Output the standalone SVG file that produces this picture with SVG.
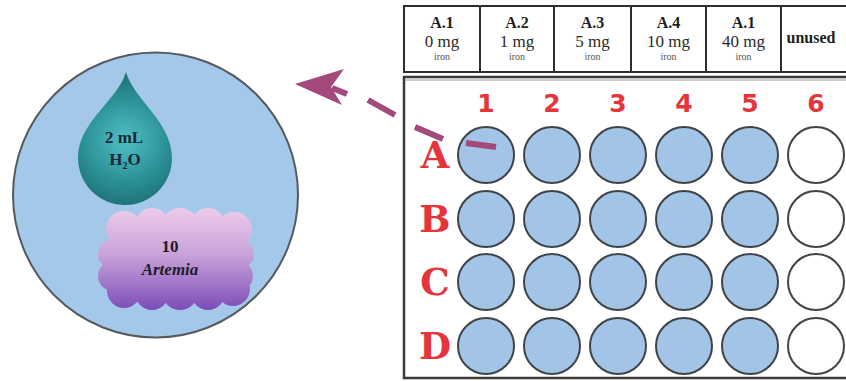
<svg xmlns="http://www.w3.org/2000/svg" width="846" height="381" viewBox="0 0 846 381">
  <style>
    .well { fill: #a2c5e7; stroke: #404448; stroke-width: 2; }
    .empty { fill: #ffffff; stroke: #404448; stroke-width: 2; }
    .cell { fill: #ffffff; stroke: #2e2e2e; stroke-width: 2; }
    .hd { font-family: "Liberation Serif", serif; font-weight: bold; font-size: 16px; fill: #1e1e1e; text-anchor: middle; }
    .dose { font-family: "Liberation Serif", serif; font-size: 17px; fill: #2a2a2a; text-anchor: middle; }
    .iron { font-family: "Liberation Serif", serif; font-size: 10px; fill: #555555; text-anchor: middle; }
    .col { font-family: "DejaVu Sans", sans-serif; font-weight: bold; font-size: 25px; fill: #e5343b; text-anchor: middle; }
    .row { font-family: "DejaVu Serif", serif; font-weight: bold; font-size: 37px; fill: #e5343b; text-anchor: middle; }
    .lbl { font-family: "Liberation Serif", serif; font-weight: bold; font-size: 17px; fill: #1c2a33; text-anchor: middle; }
    .dash { stroke: #a4497c; stroke-width: 6; fill: none; }
  </style>
  <defs>
    <radialGradient id="dropFill" cx="125" cy="140" r="70" gradientUnits="userSpaceOnUse">
      <stop offset="0" stop-color="#4fc0c6"/>
      <stop offset="0.6" stop-color="#2b9096"/>
      <stop offset="1" stop-color="#1c6d72"/>
    </radialGradient>
    <linearGradient id="cloudFill" x1="0" y1="208" x2="0" y2="310" gradientUnits="userSpaceOnUse">
      <stop offset="0" stop-color="#ecccea"/>
      <stop offset="0.45" stop-color="#c9a3da"/>
      <stop offset="1" stop-color="#7c4db8"/>
    </linearGradient>
  </defs>

  <!-- single well, enlarged -->
  <g id="well-detail">
    <circle cx="155.5" cy="195" r="142.5" fill="#a4c8e9" stroke="#555a5e" stroke-width="2"/>
  </g>

  <g id="water-drop">
    <path d="M126,72 C134,100 172,122 172,158 A47,47 0 0 1 78,158 C78,122 118,100 126,72 Z" fill="url(#dropFill)"/>
    <text class="lbl" x="124" y="143">2 mL</text>
    <text class="lbl" x="125" y="165">H<tspan font-size="10" dy="4">2</tspan><tspan dy="-4">O</tspan></text>
  </g>

  <g id="artemia-cloud" fill="url(#cloudFill)">
    <rect x="115" y="224" width="125" height="72"/>
    <circle cx="124" cy="229" r="18"/>
    <circle cx="152" cy="225" r="17"/>
    <circle cx="180" cy="226" r="18"/>
    <circle cx="208" cy="225" r="17"/>
    <circle cx="234" cy="230" r="18"/>
    <circle cx="113" cy="254" r="15"/>
    <circle cx="113" cy="276" r="15"/>
    <circle cx="239" cy="254" r="15"/>
    <circle cx="238" cy="276" r="15"/>
    <circle cx="124" cy="291" r="17"/>
    <circle cx="152" cy="293" r="17"/>
    <circle cx="180" cy="292" r="18"/>
    <circle cx="208" cy="293" r="17"/>
    <circle cx="233" cy="289" r="17"/>
    <text class="lbl" x="170" y="252" style="fill:#1c1c2a">10</text>
    <text class="lbl" x="170" y="275" font-style="italic" style="fill:#1c1c2a">Artemia</text>
  </g>

  <!-- dosing table -->
  <g id="dose-table">
    <rect class="cell" x="404" y="6" width="76" height="66"/>
    <rect class="cell" x="480" y="6" width="74" height="66"/>
    <rect class="cell" x="554" y="6" width="77" height="66"/>
    <rect class="cell" x="631" y="6" width="75" height="66"/>
    <rect class="cell" x="706" y="6" width="75" height="66"/>
    <rect class="cell" x="781" y="6" width="70" height="66"/>
    <text class="hd" x="442" y="28">A.1</text>
    <text class="dose" x="442" y="47">0 mg</text>
    <text class="iron" x="442" y="60">iron</text>
    <text class="hd" x="517" y="28">A.2</text>
    <text class="dose" x="517" y="47">1 mg</text>
    <text class="iron" x="517" y="60">iron</text>
    <text class="hd" x="592.5" y="28">A.3</text>
    <text class="dose" x="592.5" y="47">5 mg</text>
    <text class="iron" x="592.5" y="60">iron</text>
    <text class="hd" x="668.5" y="28">A.4</text>
    <text class="dose" x="668.5" y="47">10 mg</text>
    <text class="iron" x="668.5" y="60">iron</text>
    <text class="hd" x="743.5" y="28">A.1</text>
    <text class="dose" x="743.5" y="47">40 mg</text>
    <text class="iron" x="743.5" y="60">iron</text>
    <text class="hd" x="811" y="43" font-size="17">unused</text>
  </g>

  <!-- 24-well plate -->
  <g id="plate">
    <rect x="404" y="77" width="448" height="301" fill="#ffffff" stroke="#3a3a3a" stroke-width="2.5"/>
    <line x1="405" y1="80" x2="852" y2="80" stroke="#9a9a9a" stroke-width="1"/>
  </g>

  <g id="column-labels">
    <text class="col" x="486" y="112">1</text>
    <text class="col" x="552" y="112">2</text>
    <text class="col" x="618" y="112">3</text>
    <text class="col" x="684" y="112">4</text>
    <text class="col" x="750" y="112">5</text>
    <text class="col" x="816" y="112">6</text>
  </g>

  <g id="row-labels">
    <text class="row" x="435" y="168">A</text>
    <text class="row" x="435" y="232">B</text>
    <text class="row" x="435" y="295">C</text>
    <text class="row" x="435" y="359">D</text>
  </g>

  <g id="row-A">
    <circle class="well" cx="486" cy="155" r="28"/>
    <circle class="well" cx="552" cy="155" r="28"/>
    <circle class="well" cx="618" cy="155" r="28"/>
    <circle class="well" cx="684" cy="155" r="28"/>
    <circle class="well" cx="750" cy="155" r="28"/>
    <circle class="empty" cx="816" cy="155" r="28"/>
  </g>
  <g id="row-B">
    <circle class="well" cx="486" cy="219" r="28"/>
    <circle class="well" cx="552" cy="219" r="28"/>
    <circle class="well" cx="618" cy="219" r="28"/>
    <circle class="well" cx="684" cy="219" r="28"/>
    <circle class="well" cx="750" cy="219" r="28"/>
    <circle class="empty" cx="816" cy="219" r="28"/>
  </g>
  <g id="row-C">
    <circle class="well" cx="486" cy="282" r="28"/>
    <circle class="well" cx="552" cy="282" r="28"/>
    <circle class="well" cx="618" cy="282" r="28"/>
    <circle class="well" cx="684" cy="282" r="28"/>
    <circle class="well" cx="750" cy="282" r="28"/>
    <circle class="empty" cx="816" cy="282" r="28"/>
  </g>
  <g id="row-D">
    <circle class="well" cx="486" cy="346" r="28"/>
    <circle class="well" cx="552" cy="346" r="28"/>
    <circle class="well" cx="618" cy="346" r="28"/>
    <circle class="well" cx="684" cy="346" r="28"/>
    <circle class="well" cx="750" cy="346" r="28"/>
    <circle class="empty" cx="816" cy="346" r="28"/>
  </g>

  <!-- dashed pointer from well A1 to the enlarged well -->
  <g id="connectors">
    <path class="dash" d="M496,147 L466,143 M443,139 L415,127 M395,115 L368,100 M347,94 L332,88"/>
    <polygon points="295,84 344,69 331,87 342,105" fill="#a4497c"/>
  </g>
</svg>
